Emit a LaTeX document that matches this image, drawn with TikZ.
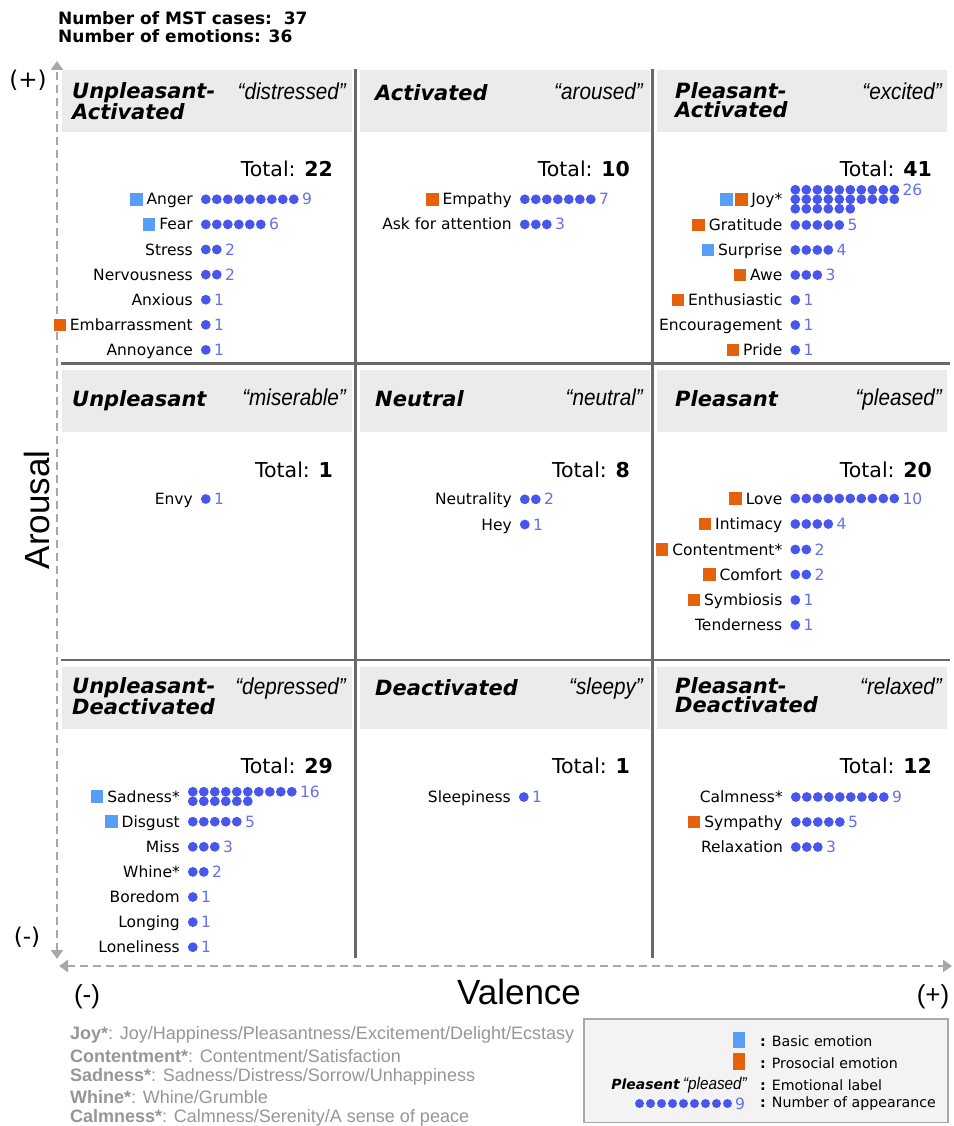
\documentclass[tikz,border=0pt]{standalone}
\usepackage{fontspec}
\setmainfont{DejaVu Sans}[ItalicFont={DejaVu Sans Oblique},BoldItalicFont={DejaVu Sans Bold Oblique}]
\newfontfamily\quotefont[FakeStretch=0.9]{Liberation Sans}
\newfontfamily\notefont{Liberation Sans}
\usetikzlibrary{positioning,calc,arrows.meta}

\definecolor{dotblue}{RGB}{72,86,236}
\definecolor{numblue}{RGB}{100,114,230}
\definecolor{basicblue}{RGB}{88,158,245}
\definecolor{prosorange}{RGB}{230,98,10}
\definecolor{headgray}{RGB}{235,235,235}
\definecolor{gridgray}{RGB}{105,105,105}
\definecolor{axisgray}{RGB}{168,168,168}
\definecolor{notegray}{RGB}{150,150,150}
\definecolor{legfill}{RGB}{243,243,243}

\tikzset{
  emolabel/.style={anchor=east, inner sep=0pt, font=\fontsize{15.5}{18}\selectfont, text height=11pt, text depth=0pt},
  numlabel/.style={anchor=west, inner sep=0pt, text=numblue, font=\fontsize{15.5}{18}\selectfont, text height=11pt, text depth=0pt},
  totalnode/.style={anchor=base east, inner sep=0pt, font=\fontsize{20.5}{24}\selectfont},
  titlenode/.style={anchor=north west, inner sep=0pt, align=left, font=\bfseries\itshape\fontsize{21}{19}\selectfont},
  quotenode/.style={anchor=base east, inner sep=0pt, font=\quotefont\itshape\fontsize{23}{26}\selectfont},
  infotext/.style={anchor=base west, inner sep=0pt, font=\bfseries\fontsize{17}{20}\selectfont},
  signnode/.style={inner sep=0pt, font=\notefont\fontsize{26}{30}\selectfont},
  axisname/.style={inner sep=0pt, font=\notefont\fontsize{35}{40}\selectfont},
  basicsq/.style={fill=basicblue, minimum size=12.5pt, inner sep=0pt},
  prossq/.style={fill=prosorange, minimum size=12.5pt, inner sep=0pt},
  gridline/.style={draw=gridgray, line width=2.2pt},
  axisline/.style={draw=axisgray, line width=2.5pt, dash pattern=on 8pt off 5pt,
    {Triangle[width=12pt,length=9pt]}-{Triangle[width=12pt,length=9pt]}},
  legtext/.style={anchor=west, inner sep=0pt, font=\fontsize{14.2}{17}\selectfont},
  note/.style={anchor=west, inner sep=0pt, text=notegray, font=\notefont\fontsize{18}{20}\selectfont}
}

% emotion row: [dots per row]{name}{x}{y}{text}{count}
\newcommand{\emo}[6][20]{%
  \node[emolabel] (#2) at (#3,#4) {#5};
  \pgfmathtruncatemacro\emorows{ceil(#6/#1)}
  \foreach \k in {1,...,#6}{
    \pgfmathtruncatemacro\emocol{mod(\k-1,#1)}
    \pgfmathtruncatemacro\emorow{div(\k-1,#1)}
    \fill[dotblue] ($(#2.east)+({12.8+11*\emocol},{9.5*\emorow-4.75*(\emorows-1)})$) circle (4.9pt);
  }
  \pgfmathsetmacro\emowidth{min(#6,#1)}
  \node[numlabel] (#2-n) at ($(#2.east)+({9.8+11*\emowidth},{-4.75*(\emorows-1)})$) {#6};
}
\newcommand{\basic}[1]{\node[basicsq, left=3.5pt of #1] (#1-b) {};}
\newcommand{\prosoc}[1]{\node[prossq, left=3.5pt of #1] (#1-p) {};}

\begin{document}
\begin{tikzpicture}[x=1pt, y=-1pt]
\useasboundingbox (0,0) rectangle (953,1126);

\node[infotext] (cases) at (58,25) {Number of MST cases:\ \ 37};
\node[infotext] (emocount) at (58,43) {Number of emotions: 36};

% header bars
\foreach \hx in {62,360,657}
  \foreach \hy in {70,370,667}
    \fill[headgray] (\hx,\hy) rectangle ++(289.5,62);

% grid and axes
\draw[gridline] (355.5,69) -- (355.5,958);
\draw[gridline] (652.5,69) -- (652.5,958);
\draw[gridline] (61,363.5) -- (950,363.5);
\draw[gridline] (61,660) -- (950,660);
\draw[axisline] (57,959) -- (57,61);
\draw[axisline] (59,966) -- (952,966);

\node[signnode, font=\fontsize{23}{26}\selectfont] (aroplus) at (28,80) {(+)};
\node[signnode, font=\fontsize{23}{26}\selectfont] (arominus) at (27,937) {(-)};
\node[axisname, rotate=90] (arousal) at (37,510) {Arousal};
\node[axisname] (valence) at (519,992) {Valence};
\node[signnode] (valminus) at (87,997) {(-)};
\node[signnode] (valplus) at (933,997) {(+)};

% titles
\node[titlenode] (t-ua) at (72,82.5) {Unpleasant-\\Activated};
\node[titlenode] (t-a) at (375,84) {Activated};
\node[titlenode] (t-pa) at (675,82.5) {Pleasant-\\Activated};
\node[titlenode] (t-u) at (72,390) {Unpleasant};
\node[titlenode] (t-n) at (375,390) {Neutral};
\node[titlenode] (t-p) at (675,390) {Pleasant};
\node[titlenode] (t-ud) at (72,677.5) {Unpleasant-\\Deactivated};
\node[titlenode] (t-d) at (375,679) {Deactivated};
\node[titlenode] (t-pd) at (675,677.5) {Pleasant-\\Deactivated};

\node[quotenode] (q-ua) at (346,99.5) {“distressed”};
\node[quotenode] (q-a) at (643,99.5) {“aroused”};
\node[quotenode] (q-pa) at (942,99.5) {“excited”};
\node[quotenode] (q-u) at (346,405) {“miserable”};
\node[quotenode] (q-n) at (643,405) {“neutral”};
\node[quotenode] (q-p) at (942,405) {“pleased”};
\node[quotenode] (q-ud) at (346,694) {“depressed”};
\node[quotenode] (q-d) at (643,694) {“sleepy”};
\node[quotenode] (q-pd) at (942,694) {“relaxed”};

% totals
\node[totalnode] (tot-ua) at (333,177) {Total: \textbf{22}};
\node[totalnode] (tot-a) at (630,177) {Total: \textbf{10}};
\node[totalnode] (tot-pa) at (932,177) {Total: \textbf{41}};
\node[totalnode] (tot-u) at (333,477) {Total: \textbf{1}};
\node[totalnode] (tot-n) at (630,477) {Total: \textbf{8}};
\node[totalnode] (tot-p) at (932,477) {Total: \textbf{20}};
\node[totalnode] (tot-ud) at (333,773) {Total: \textbf{29}};
\node[totalnode] (tot-d) at (630,773) {Total: \textbf{1}};
\node[totalnode] (tot-pd) at (932,773) {Total: \textbf{12}};

% unpleasant-activated
\emo{anger}{193}{199.3}{Anger}{9} \basic{anger}
\emo{fear}{193}{224.4}{Fear}{6} \basic{fear}
\emo{stress}{193}{249.5}{Stress}{2}
\emo{nervous}{193}{274.6}{Nervousness}{2}
\emo{anxious}{193}{299.7}{Anxious}{1}
\emo{embarrass}{193}{324.8}{Embarrassment}{1} \prosoc{embarrass}
\emo{annoy}{193}{349.9}{Annoyance}{1}
% activated
\emo{empathy}{512}{199.3}{Empathy}{7} \prosoc{empathy}
\emo{askattn}{512}{224.4}{Ask for attention}{3}
% pleasant-activated
\emo[10]{joy}{782.5}{199.3}{Joy*}{26}
\node[prossq, left=3pt of joy] (joy-p) {};
\node[basicsq, left=2.5pt of joy-p] (joy-b) {};
\emo{gratitude}{782.5}{225}{Gratitude}{5} \prosoc{gratitude}
\emo{surprise}{782.5}{250}{Surprise}{4} \basic{surprise}
\emo{awe}{782.5}{275}{Awe}{3} \prosoc{awe}
\emo{enthus}{782.5}{300}{Enthusiastic}{1} \prosoc{enthus}
\emo{encourage}{782.5}{325}{Encouragement}{1}
\emo{pride}{782.5}{350}{Pride}{1} \prosoc{pride}
% unpleasant
\emo{envy}{193}{499}{Envy}{1}
% neutral
\emo{neutrality}{512}{499.3}{Neutrality}{2}
\emo{hey}{512}{524.5}{Hey}{1}
% pleasant
\emo{love}{782.5}{498.5}{Love}{10} \prosoc{love}
\emo{intimacy}{782.5}{524}{Intimacy}{4} \prosoc{intimacy}
\emo{content}{782.5}{549.5}{Contentment*}{2} \prosoc{content}
\emo{comfort}{782.5}{574.5}{Comfort}{2} \prosoc{comfort}
\emo{symbiosis}{782.5}{600}{Symbiosis}{1} \prosoc{symbiosis}
\emo{tender}{782.5}{625}{Tenderness}{1}
% unpleasant-deactivated
\emo[10]{sadness}{180}{796.5}{Sadness*}{16} \basic{sadness}
\emo{disgust}{180}{821.7}{Disgust}{5} \basic{disgust}
\emo{miss}{180}{846.8}{Miss}{3}
\emo{whine}{180}{871.9}{Whine*}{2}
\emo{boredom}{180}{897}{Boredom}{1}
\emo{longing}{180}{922.1}{Longing}{1}
\emo{lonely}{180}{947.2}{Loneliness}{1}
% deactivated
\emo{sleepy}{511}{797}{Sleepiness}{1}
% pleasant-deactivated
\emo{calmness}{783}{797}{Calmness*}{9}
\emo{sympathy}{783}{822}{Sympathy}{5} \prosoc{sympathy}
\emo{relax}{783}{847}{Relaxation}{3}

% footnotes
\node[note] (note-joy) at (70,1035) {\textbf{Joy*}: Joy/Happiness/Pleasantness/Excitement/Delight/Ecstasy};
\node[note] (note-content) at (70,1056) {\textbf{Contentment*}: Contentment/Satisfaction};
\node[note] (note-sad) at (70,1077) {\textbf{Sadness*}: Sadness/Distress/Sorrow/Unhappiness};
\node[note] (note-whine) at (70,1097.5) {\textbf{Whine*}: Whine/Grumble};
\node[note] (note-calm) at (70,1118) {\textbf{Calmness*}: Calmness/Serenity/A sense of peace};

% legend
\draw[fill=legfill, draw=axisgray, line width=1.3pt] (584,1019) rectangle (948,1122.5);
\node[basicsq, minimum width=12.5pt, minimum height=16.5pt] (leg-b) at (739,1040) {};
\node[prossq, minimum width=12.5pt, minimum height=16.5pt] (leg-p) at (739,1061.7) {};
\node[legtext] (leg-bt) at (760,1040.7) {\textbf{:} Basic emotion};
\node[legtext] (leg-pt) at (760,1063) {\textbf{:} Prosocial emotion};
\node[legtext] (leg-lt) at (760,1085) {\textbf{:} Emotional label};
\node[legtext] (leg-nt) at (760,1103.5) {\textbf{:} Number of appearance};
\node[anchor=east, inner sep=0pt] (leg-label) at (747,1085)
  {{\bfseries\itshape\fontsize{14}{17}\selectfont Pleasent} {\quotefont\itshape\fontsize{17}{20}\selectfont “pleased”}};
\coordinate (leg-dots) at (639.5,1103.5);
\foreach \k in {0,...,8}
  \fill[dotblue] ($(leg-dots)+(11*\k,0)$) circle (4.5pt);
\node[numlabel] (leg-n) at ($(leg-dots)+(95.5,0)$) {9};
\end{tikzpicture}
\end{document}
